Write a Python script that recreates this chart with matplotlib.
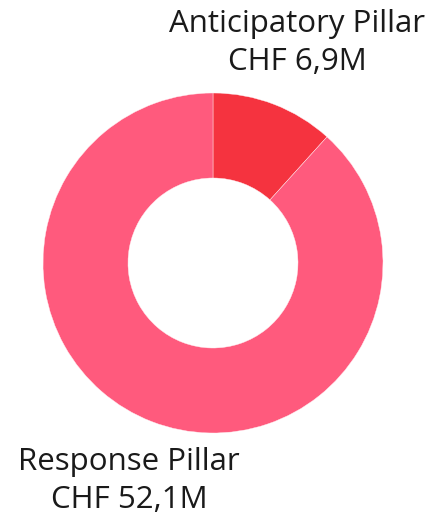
import matplotlib.pyplot as plt

# values in CHF million
pillars = ["Anticipatory Pillar", "Response Pillar"]
amounts = [6.9, 52.1]
amount_labels = ["CHF 6,9M", "CHF 52,1M"]
colors = ["#F5333F", "#FF5A7D"]

plt.rcParams['font.family'] = ['Open Sans', 'DejaVu Sans']

W, H = 438, 527
fig = plt.figure(figsize=(W / 100, H / 100), dpi=100)
ax = fig.add_axes([0, 0, 1, 1])

# donut, starting at 12 o'clock and going clockwise
ax.pie(amounts, colors=colors, startangle=90, counterclock=False,
       radius=170, center=(213, H - 263),
       wedgeprops=dict(width=85, edgecolor='#FFF0F3', linewidth=0.3),
       frame=True)
ax.set_xlim(0, W)
ax.set_ylim(0, H)
ax.set_aspect('equal')
ax.axis('off')

# labels
ax.text(297, H - 43, pillars[0] + "\n" + amount_labels[0], ha='center', va='center',
        fontsize=22.5, color='#1a1a1a', linespacing=1.36)
ax.text(129, H - 481, pillars[1] + "\n" + amount_labels[1], ha='center', va='center',
        fontsize=22.5, color='#1a1a1a', linespacing=1.36)

fig.savefig("out.png", dpi=100)
